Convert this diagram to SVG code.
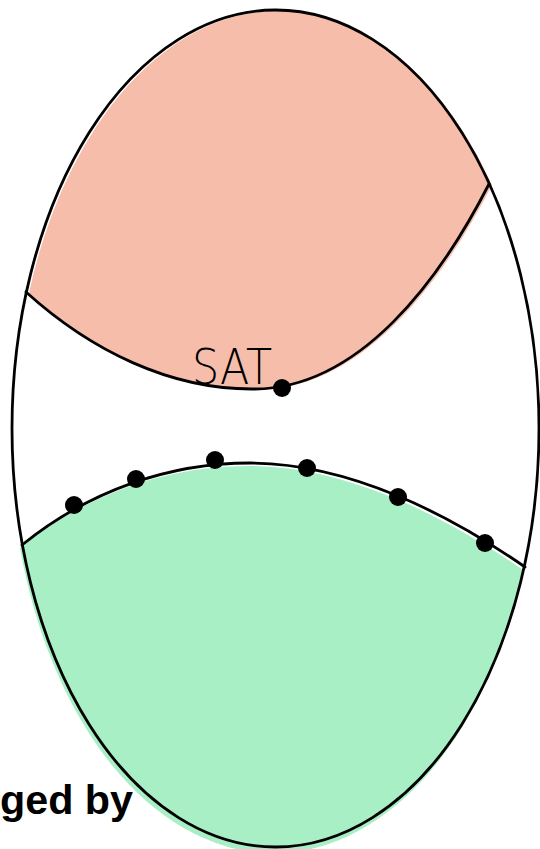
<svg xmlns="http://www.w3.org/2000/svg" width="540" height="849" viewBox="0 0 540 849">
<style>
.line{fill:none;stroke:#000;stroke-width:2.8;stroke-linecap:round;stroke-linejoin:round}
.dot{fill:#000}
.hand{font-family:"Liberation Sans","DejaVu Sans",sans-serif;fill:#000}
</style>
<rect width="540" height="849" fill="#fff"/>
<g id="region-upper">
<path d="M26,292 C90,350 170,390 255,389 C360,388 440,280 489,184 A263.5 418.5 0 0 0 26,292 Z" fill="#f7bdab" transform="translate(3,1)"/>
</g>
<g id="region-lower">
<path d="M22,545 C90,490 170,463 250,463 C350,463 450,515 525,567 A263.5 418.5 0 0 1 22,545 Z" fill="#a9efc6" transform="translate(-2,3)"/>
</g>
<g id="outline">
<ellipse cx="275.5" cy="428.5" rx="263.5" ry="418.5" class="line"/>
</g>
<g id="connectors">
<path class="line" d="M26,292 C90,350 170,390 255,389 C360,388 440,280 489,184"/>
<path class="line" d="M22,545 C90,490 170,463 250,463 C350,463 450,515 525,567"/>
</g>
<g id="sat">
<text x="192" y="384" font-family="'DejaVu Sans','Liberation Sans',sans-serif" font-weight="200" font-size="50" textLength="80" lengthAdjust="spacingAndGlyphs" fill="#000">SAT</text>
<circle class="dot" cx="282" cy="388" r="9"/>
</g>
<g id="points">
<circle class="dot" cx="74" cy="505" r="9"/>
<circle class="dot" cx="136" cy="479" r="9"/>
<circle class="dot" cx="215" cy="460" r="9"/>
<circle class="dot" cx="307" cy="468" r="9"/>
<circle class="dot" cx="398" cy="497" r="9"/>
<circle class="dot" cx="485" cy="543" r="9"/>
</g>
<g id="caption">
<text class="hand" x="0" y="814" font-size="40" font-weight="bold" textLength="133" lengthAdjust="spacingAndGlyphs">ged by</text>
</g>
</svg>
